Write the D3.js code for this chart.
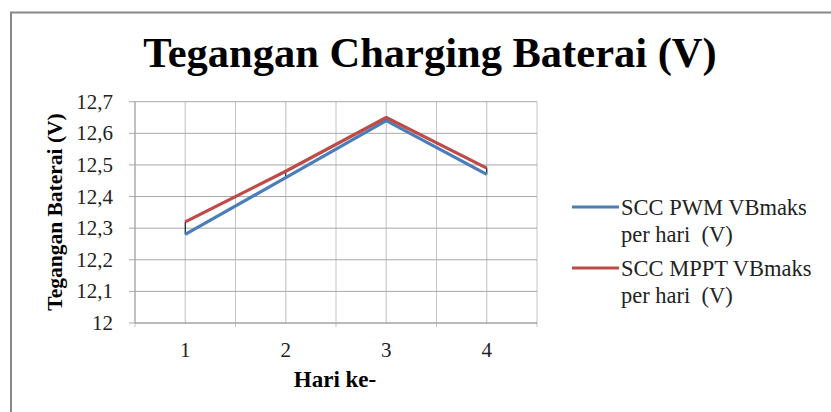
<!DOCTYPE html>
<html><head><meta charset="utf-8">
<script src="https://cdn.jsdelivr.net/npm/d3@7"></script>
<style>
html,body{margin:0;padding:0;background:#fff;}
svg{display:block;font-family:"Liberation Serif","Times New Roman",serif;}
text{white-space:pre;}
</style></head>
<body>
<svg id="c" width="831" height="412"></svg>
<script>
const categories = ["1","2","3","4"];
const pwmValues  = [12.28, 12.46, 12.64, 12.47];
const mpptValues = [12.32, 12.48, 12.65, 12.49];
const yTicks = [12, 12.1, 12.2, 12.3, 12.4, 12.5, 12.6, 12.7];
const yTickLabels = ["12","12,1","12,2","12,3","12,4","12,5","12,6","12,7"];
const seriesNames = [["SCC PWM VBmaks","per hari  (V)"],["SCC MPPT VBmaks","per hari  (V)"]];
const title = "Tegangan Charging Baterai (V)";
const xTitle = "Hari ke-";
const yTitle = "Tegangan Baterai (V)";

const svg = d3.select("#c");
// outer chart border
svg.append("rect").attr("x",11).attr("y",12.5).attr("width",840).attr("height",420)
  .attr("fill","none").attr("stroke","#888").attr("stroke-width",2);

const L=135, R=537, T=101.7, B=323;
const x = d3.scaleBand().domain(categories).range([L,R]).padding(0);
const y = d3.scaleLinear().domain([12,12.7]).range([B,T]);

const g = svg.append("g");
// vertical gridlines: band boundaries and centers
const bounds = categories.map(c=>x(c)).concat([R]);
bounds.forEach(v=>{
  g.append("line").attr("x1",v).attr("x2",v).attr("y1",T).attr("y2",B+4)
   .attr("stroke","#c4c4c4").attr("stroke-width",1);
});
categories.forEach(c=>{
  const cx = x(c)+x.bandwidth()/2;
  g.append("line").attr("x1",cx).attr("x2",cx).attr("y1",T).attr("y2",B)
   .attr("stroke","#cdcdcd").attr("stroke-width",1.3);
});
// horizontal gridlines
yTicks.forEach(t=>{
  g.append("line").attr("x1",L-6).attr("x2",R).attr("y1",y(t)).attr("y2",y(t))
   .attr("stroke","#a8a8a8").attr("stroke-width",1);
});
// axes lines
g.append("line").attr("x1",L).attr("x2",L).attr("y1",T).attr("y2",B).attr("stroke","#a0a0a0");
g.append("line").attr("x1",L).attr("x2",R).attr("y1",B).attr("y2",B).attr("stroke","#a0a0a0");

// y tick labels
yTicks.forEach((t,i)=>{
  svg.append("text").attr("x",113).attr("y",y(t)+7).attr("text-anchor","end")
    .attr("font-size",21).attr("fill","#222").text(yTickLabels[i]);
});
// x tick labels
categories.forEach(c=>{
  svg.append("text").attr("x",x(c)+x.bandwidth()/2).attr("y",357).attr("text-anchor","middle")
    .attr("font-size",21).attr("fill","#222").text(c);
});

const cxOf = c => x(c)+x.bandwidth()/2;
// high-low lines
categories.forEach((c,i)=>{
  svg.append("line").attr("x1",cxOf(c)).attr("x2",cxOf(c))
    .attr("y1",y(pwmValues[i])).attr("y2",y(mpptValues[i]))
    .attr("stroke","#000").attr("stroke-width",1);
});

const line = d3.line().x((d,i)=>cxOf(categories[i])).y(d=>y(d));
const colors = ["#4A7EBB","#BE4B48"];
[pwmValues, mpptValues].forEach((vals,k)=>{
  svg.append("path").datum(vals).attr("d",line).attr("fill","none")
    .attr("stroke",colors[k]).attr("stroke-width",3.2).attr("stroke-linejoin","round");
});

// title
svg.append("text").attr("x",430).attr("y",67).attr("text-anchor","middle")
  .attr("font-size",42.5).attr("font-weight","bold").attr("fill","#000").text(title);
// x title
svg.append("text").attr("x",335).attr("y",387).attr("text-anchor","middle")
  .attr("font-size",23).attr("font-weight","bold").attr("fill","#000").text(xTitle);
// y title
svg.append("text").attr("transform","translate(62,212) rotate(-90)").attr("text-anchor","middle")
  .attr("font-size",21.5).attr("font-weight","bold").attr("fill","#000").text(yTitle);

// legend
const legY = [207, 268];
seriesNames.forEach((lines,k)=>{
  svg.append("line").attr("x1",572).attr("x2",619).attr("y1",legY[k]).attr("y2",legY[k])
    .attr("stroke",colors[k]).attr("stroke-width",3.2);
  lines.forEach((s,j)=>{
    svg.append("text").attr("x",621).attr("y",legY[k]+8+j*26.5)
      .attr("font-size",22.5).attr("fill","#222").text(s);
  });
});
</script>
</body></html>
